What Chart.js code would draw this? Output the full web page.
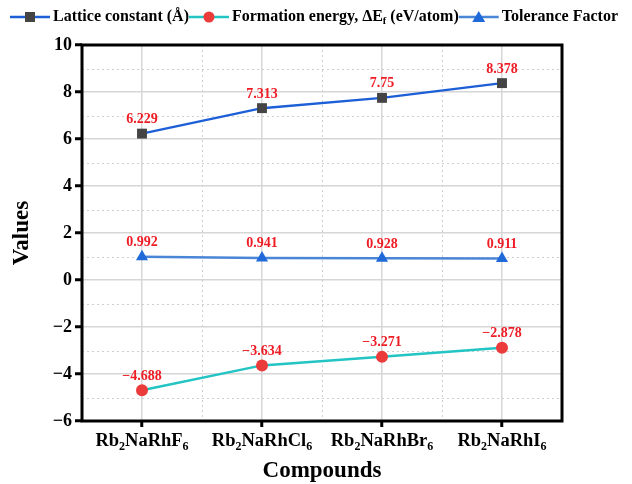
<!DOCTYPE html>
<html>
<head>
<meta charset="utf-8">
<script src="https://cdn.jsdelivr.net/npm/chart.js@4"></script>
<style>
  html, body { margin: 0; padding: 0; background: #fff; }
  #wrap { width: 632px; height: 484px; }
</style>
</head>
<body>
<div id="wrap"><canvas id="chart" width="632" height="484"></canvas></div>
<script>
// --- DATA ---
const categories = ['Rb2NaRhF6', 'Rb2NaRhCl6', 'Rb2NaRhBr6', 'Rb2NaRhI6'];
const latticeConstant = [6.229, 7.313, 7.75, 8.378];
const formationEnergy = [-4.688, -3.634, -3.271, -2.878];
const toleranceFactor = [0.992, 0.941, 0.928, 0.911];
const yTicks = [-6, -4, -2, 0, 2, 4, 6, 8, 10];
const legendNames = ['Lattice constant (Å)', 'Formation energy, ΔE_f (eV/atom)', 'Tolerance Factor'];

const SERIF = '"Liberation Serif", "Times New Roman", serif';
const minus = v => String(v).replace('-', '\u2212');

// split text into normal / subscript pieces
// formula: digits are subscripts; legend: "_x" marks a subscript char
function formulaParts(s) {
    const parts = [];
    for (const ch of s) {
        const sub = /[0-9]/.test(ch);
        const last = parts[parts.length - 1];
        if (last && last.sub === sub) last.t += ch; else parts.push({ t: ch, sub: sub });
    }
    return parts;
}
function markParts(s) {
    const parts = [];
    let i = 0, buf = '';
    while (i < s.length) {
        if (s[i] === '_') {
            if (buf) parts.push({ t: buf, sub: false });
            buf = '';
            parts.push({ t: s[i + 1], sub: true });
            i += 2;
        } else { buf += s[i]; i++; }
    }
    if (buf) parts.push({ t: buf, sub: false });
    return parts;
}
function partsWidth(ctx, parts, size) {
    let w = 0;
    for (const p of parts) {
        ctx.font = 'bold ' + (p.sub ? size * 0.65 : size) + 'px ' + SERIF;
        w += ctx.measureText(p.t).width;
    }
    return w;
}
function drawParts(ctx, parts, x, y, size) {
    ctx.textAlign = 'left';
    ctx.textBaseline = 'middle';
    for (const p of parts) {
        const fs = p.sub ? size * 0.65 : size;
        ctx.font = 'bold ' + fs + 'px ' + SERIF;
        ctx.fillText(p.t, x, p.sub ? y + size * 0.3 : y);
        x += ctx.measureText(p.t).width;
    }
    return x;
}

// --- PLUGIN: minor dotted grid, frame, labels, legend ---
const decorPlugin = {
    id: 'decor',
    beforeDatasetsDraw(chart) {
        const { ctx, chartArea: a, scales: { x, y } } = chart;
        ctx.save();
        ctx.strokeStyle = '#cfcfcf';
        ctx.lineWidth = 1;
        ctx.setLineDash([2, 3]);
        for (let i = 0; i < yTicks.length - 1; i++) {
            const py = Math.round(y.getPixelForValue((yTicks[i] + yTicks[i + 1]) / 2)) + 0.5;
            ctx.beginPath(); ctx.moveTo(a.left, py); ctx.lineTo(a.right, py); ctx.stroke();
        }
        for (let i = 0; i < categories.length - 1; i++) {
            const px = Math.round((x.getPixelForValue(i) + x.getPixelForValue(i + 1)) / 2) + 0.5;
            ctx.beginPath(); ctx.moveTo(px, a.top); ctx.lineTo(px, a.bottom); ctx.stroke();
        }
        ctx.restore();
    },
    afterDraw(chart) {
        const { ctx, chartArea: a, scales: { x } } = chart;
        ctx.save();
        // frame
        ctx.strokeStyle = '#000';
        ctx.lineWidth = 3;
        ctx.strokeRect(a.left, a.top, a.right - a.left, a.bottom - a.top);

        // value labels
        ctx.fillStyle = '#ee1c25';
        ctx.font = 'bold 14px ' + SERIF;
        ctx.textAlign = 'center';
        ctx.textBaseline = 'middle';
        chart.data.datasets.forEach((ds, di) => {
            chart.getDatasetMeta(di).data.forEach((pt, i) => {
                ctx.fillText(minus(ds.data[i]), pt.x, pt.y - 14);
            });
        });

        // category labels with subscripts
        ctx.fillStyle = '#000';
        categories.forEach((c, i) => {
            const parts = formulaParts(c);
            const w = partsWidth(ctx, parts, 18.5);
            drawParts(ctx, parts, x.getPixelForValue(i) - w / 2, a.bottom + 20, 18.5);
        });

        // axis titles
        ctx.font = 'bold 23px ' + SERIF;
        ctx.textAlign = 'center';
        ctx.textBaseline = 'middle';
        ctx.fillText('Compounds', (a.left + a.right) / 2, 471);
        ctx.save();
        ctx.translate(22, (a.top + a.bottom) / 2);
        ctx.rotate(-Math.PI / 2);
        ctx.fillText('Values', 0, 0);
        ctx.restore();

        // legend
        let lx = 10;
        const ly = 17;
        chart.data.datasets.forEach((ds, di) => {
            ctx.strokeStyle = ds.borderColor;
            ctx.lineWidth = 2.5;
            ctx.beginPath(); ctx.moveTo(lx, ly); ctx.lineTo(lx + 40, ly); ctx.stroke();
            ctx.fillStyle = ds.pointBackgroundColor;
            const cx = lx + 20;
            ctx.beginPath();
            if (ds.pointStyle === 'rect') ctx.rect(cx - 5, ly - 5, 10, 10);
            else if (ds.pointStyle === 'circle') ctx.arc(cx, ly, 5.5, 0, Math.PI * 2);
            else { ctx.moveTo(cx, ly - 6); ctx.lineTo(cx + 6.5, ly + 5); ctx.lineTo(cx - 6.5, ly + 5); ctx.closePath(); }
            ctx.fill();
            ctx.fillStyle = '#000';
            lx = drawParts(ctx, markParts(legendNames[di]), lx + 43, ly, 16);
        });
        ctx.restore();
    }
};

new Chart(document.getElementById('chart'), {
    type: 'line',
    data: {
        labels: categories,
        datasets: [
            {
                label: legendNames[0],
                data: latticeConstant,
                borderColor: '#1d5fd6',
                borderWidth: 2.5,
                pointStyle: 'rect',
                pointRadius: 7,
                pointBackgroundColor: '#444444',
                pointBorderWidth: 0,
                pointBorderColor: '#444444'
            },
            {
                label: legendNames[1],
                data: formationEnergy,
                borderColor: '#22c4c4',
                borderWidth: 2.5,
                pointStyle: 'circle',
                pointRadius: 6,
                pointBackgroundColor: '#ec3b3b',
                pointBorderWidth: 0,
                pointBorderColor: '#ec3b3b'
            },
            {
                label: legendNames[2],
                data: toleranceFactor,
                borderColor: '#4a86d6',
                borderWidth: 2.5,
                pointStyle: 'triangle',
                pointRadius: 7,
                pointBackgroundColor: '#1f6ad8',
                pointBorderWidth: 0,
                pointBorderColor: '#1f6ad8'
            }
        ]
    },
    options: {
        responsive: false,
        animation: false,
        layout: { padding: { top: 45, right: 70, left: 0, bottom: 0 } },
        plugins: {
            legend: { display: false },
            tooltip: { enabled: false }
        },
        scales: {
            x: {
                offset: true,
                afterFit: s => { s.height = 63; },
                grid: { offset: false, color: '#d6d6d6', lineWidth: 1.5, tickLength: 6, tickColor: '#000', tickWidth: 3 },
                border: { display: false },
                ticks: { color: 'rgba(0,0,0,0)', font: { size: 17 } }
            },
            y: {
                min: -6,
                max: 10,
                afterFit: s => { s.width = 82; },
                afterBuildTicks: s => { s.ticks = yTicks.map(v => ({ value: v })); },
                grid: { color: '#d6d6d6', lineWidth: 1.5, tickLength: 7, tickColor: '#000', tickWidth: 3 },
                border: { display: false },
                ticks: {
                    color: '#000',
                    padding: 3,
                    font: { family: SERIF, size: 18, weight: 'bold' },
                    callback: v => minus(v)
                }
            }
        }
    },
    plugins: [decorPlugin]
});
</script>
</body>
</html>
